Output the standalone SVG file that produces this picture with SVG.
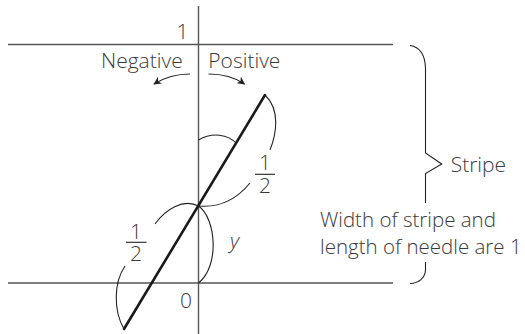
<svg xmlns="http://www.w3.org/2000/svg" width="525" height="334" viewBox="0 0 525 334">
<defs>
<style>
.t{font-family:"Open Sans","Noto Sans",sans-serif;font-weight:300;font-size:21px;fill:#3a3a3a}
.s{font-size:20.5px}
.ax{stroke:#555;stroke-width:1.4;fill:none}
.thin{stroke:#222;stroke-width:1.1;fill:none}
.needle{stroke:#1a1a1a;stroke-width:2.6;fill:none;stroke-linecap:round}
.arr{stroke:#222;stroke-width:1.2;fill:none;marker-end:url(#ah)}
</style>
<marker id="ah" viewBox="0 0 10 10" refX="9" refY="5" markerWidth="8" markerHeight="8" markerUnits="userSpaceOnUse" orient="auto">
<path d="M0,0 L10,5 L0,10 L3,5 Z" fill="#222"/>
</marker>
</defs>
<g id="axes">
<line class="ax" x1="198.5" y1="6" x2="198.5" y2="334"/>
<line class="ax" x1="8" y1="44.5" x2="393" y2="44.5"/>
<line class="ax" x1="8" y1="283" x2="393" y2="283"/>
</g>
<g id="labels">
<text class="t" x="188.5" y="39.3" text-anchor="end">1</text>
<text class="t" x="192" y="308" text-anchor="end">0</text>
<text class="t" x="182.7" y="67.7" text-anchor="end">Negative</text>
<text class="t" x="208.3" y="67.7">Positive</text>
<text class="t" x="230" y="248" font-style="italic">y</text>
</g>
<g id="connectors">
<path class="arr" d="M190,74 Q170,74 154,84"/>
<path class="arr" d="M208.5,74 Q230,74 244.5,84"/>
<line class="needle" x1="265" y1="95" x2="124" y2="329"/>
<path class="thin" d="M198.5,140 C212,132 228,134 236.5,143.5"/>
<path class="thin" d="M265,95 C281,110 276,135 270,150"/>
<path class="thin" d="M250,183 C236,200 220,208 198.5,206"/>
<path class="thin" d="M198.5,206 C183,198 165,210 155,224"/>
<path class="thin" d="M125,266 C114,282 113,310 124,329"/>
<path class="thin" d="M198.5,206 C216,218 220,266 198.5,283"/>
</g>
<g id="frac-right">
<text class="t" text-anchor="middle"><tspan x="265" y="170">1</tspan><tspan x="265" y="193">2</tspan></text>
<line class="thin" x1="255" y1="174.3" x2="275" y2="174.3"/>
</g>
<g id="frac-left">
<text class="t" text-anchor="middle"><tspan x="136" y="238.5">1</tspan><tspan x="136" y="261">2</tspan></text>
<line class="thin" x1="126" y1="242.3" x2="146.5" y2="242.3"/>
</g>
<g id="brace">
<path class="thin" d="M410,45.5 C420,47 425,55 425.5,68 L425.5,153 L441.7,164 L425.5,173.5 L425.5,203"/>
<path class="thin" d="M425.5,262 L425.5,270 C425,278 419,283 410,283.5"/>
</g>
<g id="stripe-label">
<text class="t" x="450.7" y="171.7">Stripe</text>
<text class="t s" x="320" y="227.3">Width of stripe and</text>
<text class="t s" x="320" y="254">length of needle are 1</text>
</g>
</svg>
